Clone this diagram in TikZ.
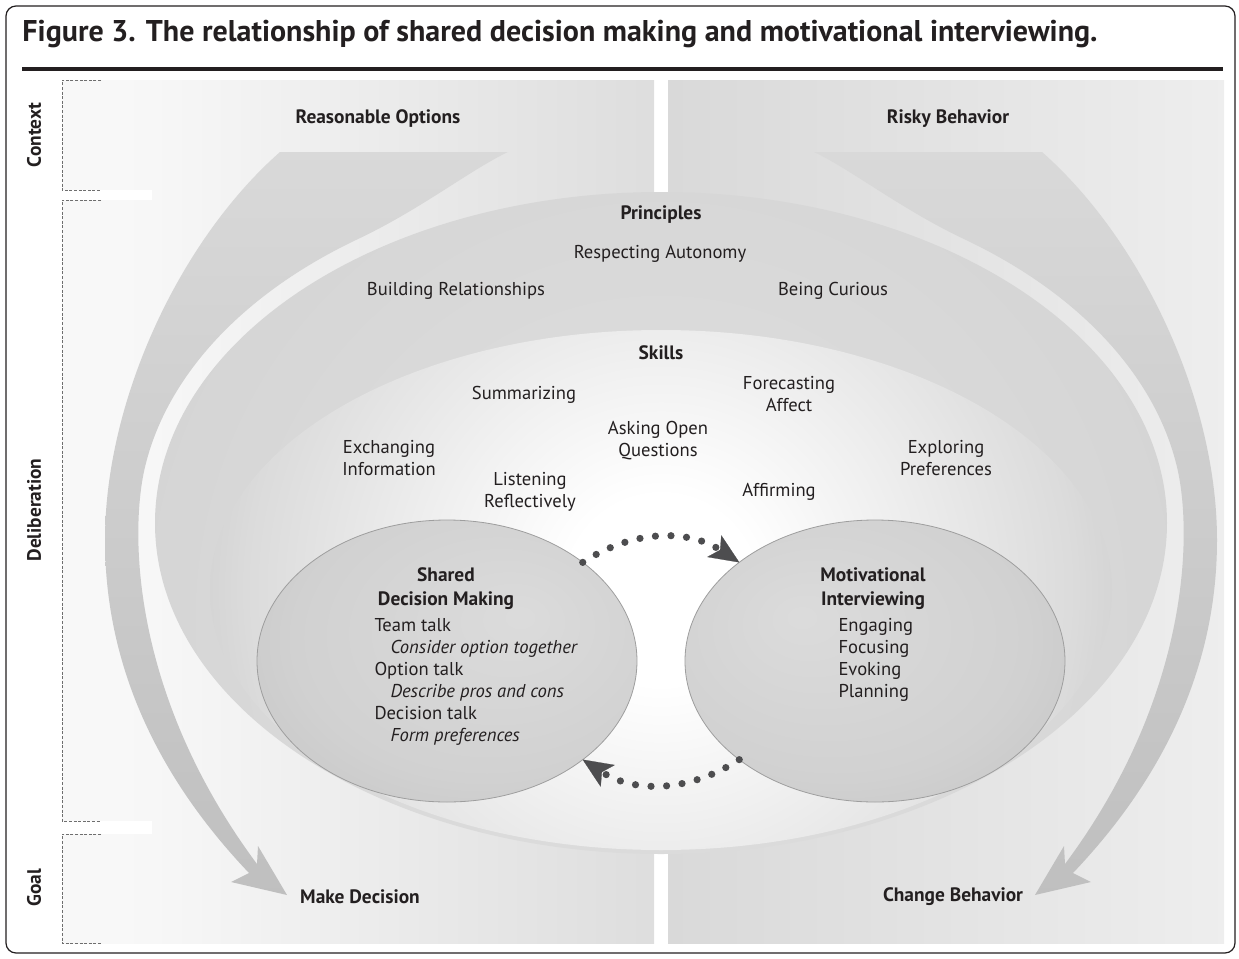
\documentclass[tikz,border=0pt]{standalone}
\usepackage{fontspec}
\setmainfont{PT Sans}
\usetikzlibrary{arrows.meta,shapes.geometric}

\definecolor{ink}{HTML}{231F20}
\definecolor{dotgrey}{HTML}{4D4D4F}
\definecolor{bandedge}{HTML}{6E6E6E}

\pgfdeclarehorizontalshading{leftwall}{100bp}{color(0bp)=(black!25); color(16bp)=(black!2); color(32bp)=(black!3); color(100bp)=(black!19)}
\pgfdeclarehorizontalshading{rightwall}{100bp}{color(0bp)=(black!19); color(92bp)=(black!4); color(100bp)=(white)}
\pgfdeclareradialshading{principleglow}{\pgfpoint{0bp}{0bp}}{color(0bp)=(black!12); color(30bp)=(black!18); color(50bp)=(black!27)}
\pgfdeclareradialshading{skillglow}{\pgfpoint{0bp}{0bp}}{color(0bp)=(white); color(5bp)=(white); color(22bp)=(black!14); color(35bp)=(black!30); color(50bp)=(black!48)}
\pgfdeclareradialshading{podglowleft}{\pgfpoint{10bp}{8bp}}{color(0bp)=(black!14); color(25bp)=(black!18); color(50bp)=(black!27)}
\pgfdeclareradialshading{podglowright}{\pgfpoint{-10bp}{8bp}}{color(0bp)=(black!14); color(25bp)=(black!18); color(50bp)=(black!27)}

\tikzset{
  every picture/.style={line width=0.5pt},
  lbl/.style={text=ink, font=\fontsize{9.3}{11}\selectfont, align=center, inner sep=0pt},
  hd/.style={text=ink, font=\fontsize{9.7}{12}\selectfont\bfseries, align=center, inner sep=0pt},
  side/.style={hd, rotate=90},
  item/.style={lbl, anchor=west, align=left},
  pod/.style={ellipse, draw=black!38, line width=0.4pt, minimum width=190pt, minimum height=141pt, inner sep=0pt, outer sep=0pt},
  loopdots/.style={dotgrey, line width=3.6pt, line cap=round, dash pattern=on 0pt off 7.8pt,
    -{Stealth[length=15pt,width=13pt,inset=3.5pt,line width=0.1pt,round=false]}},
  bandline/.style={bandedge, line width=0.5pt, dash pattern=on 1.5pt off 0.8pt},
  swoosh/.style={top color=black!15, bottom color=black!25}
}

\begin{document}
\begin{tikzpicture}[x=0.5pt,y=-0.5pt]
\useasboundingbox (0,0) rectangle (1239,959);

% frame and title
\draw[ink, line width=0.6pt, rounded corners=5pt] (6,6) rectangle (1235,953);
\node[anchor=west, text=ink, inner sep=0pt, font=\fontsize{15}{17}\selectfont\bfseries] (title) at (22,34)
  {Figure 3. The relationship of shared decision making and motivational interviewing.};
\draw[ink, line width=2pt] (22,69) -- (1223,69);

% backdrop halves
\shade[shading=leftwall] (62,80) rectangle (654,943);
\shade[shading=rightwall] (668,80) rectangle (1224,943);
\fill[white] (55,190) rectangle (152,200);
\fill[white] (55,821) rectangle (152,834);
\foreach \ya/\yb in {80/190, 200/821, 834/943}{
  \draw[bandline] (101,\ya) -- (62,\ya) -- (62,\yb) -- (101,\yb);
}

% the two big curved arrows
\shade[swoosh] (280,152) -- (508,152) .. controls (470,170) and (420,210) .. (356,240)
  arc[start angle=234.3, end angle=188.5, x radius=522, y radius=346]
  .. controls (129,540) and (135,700) .. (257,864) -- (258,846) -- (287,895) -- (231,882) -- (249,873)
  .. controls (170,790) and (105,680) .. (105,540) .. controls (105,400) and (180,240) .. (280,152) -- cycle;
\begin{scope}[xshift=661pt, xscale=-1]
\shade[swoosh] (280,152) -- (508,152) .. controls (470,170) and (420,210) .. (356,240)
  arc[start angle=234.3, end angle=188.5, x radius=522, y radius=346]
  .. controls (129,540) and (135,700) .. (257,864) -- (258,846) -- (287,895) -- (231,882) -- (249,873)
  .. controls (170,790) and (105,680) .. (105,540) .. controls (105,400) and (180,240) .. (280,152) -- cycle;
\end{scope}

% principles and skills
\begin{scope}
  \clip (661,523) ellipse [x radius=506, y radius=331];
  \shade[shading=principleglow] (661,620) circle [radius=600];
\end{scope}
\begin{scope}
  \clip (661,523) ellipse [x radius=506, y radius=331];
  \clip (661,590) ellipse [x radius=451, y radius=260];
  \shade[shading=skillglow] (661,590) circle [radius=470];
\end{scope}

% the two approaches
\node[pod, shading=podglowleft] (sdm) at (447,661) {};
\node[pod, shading=podglowright] (mi) at (875,661) {};
\draw[loopdots] (sdm.36) to[bend left=33] (mi.144);
\draw[loopdots] (mi.216) to[bend left=33] (sdm.324);

% side labels
\node[side] (context) at (34,135) {Context};
\node[side] (deliberation) at (34,510) {Deliberation};
\node[side] (goal) at (34,888) {Goal};

% labels
\node[hd] (reasonable) at (378,119) {Reasonable Options};
\node[hd] (risky) at (948,119) {Risky Behavior};
\node[hd] (decide) at (360,897) {Make Decision};
\node[hd] (change) at (953,897) {Change Behavior};
\node[hd] (principles) at (661,215) {Principles};
\node[lbl] (autonomy) at (660,254) {Respecting Autonomy};
\node[lbl] (relations) at (456,291) {Building Relationships};
\node[lbl] (curious) at (833,291) {Being Curious};
\node[hd] (skills) at (661,353) {Skills};
\node[lbl] (summar) at (524,395) {Summarizing};
\node[lbl] (forecast) at (789,394) {Forecasting\\Affect};
\node[lbl] (openq) at (658,441) {Asking Open\\Questions};
\node[lbl] (exchange) at (389,458) {Exchanging\\Information};
\node[lbl] (explore) at (946,458) {Exploring\\Preferences};
\node[lbl] (listen) at (530,492) {Listening\\Reflectively};
\node[lbl] (affirm) at (779,492) {Affirming};

\node[hd] (sdmhead) at (446,589) {Shared\\Decision Making};
\node[item] (sdmlist) at (374,682) {Team talk\\\hspace{8pt}\textit{Consider option together}\\Option talk\\
  \hspace{8pt}\textit{Describe pros and cons}\\Decision talk\\\hspace{8pt}\textit{Form preferences}};
\node[hd] (mihead) at (873,589) {Motivational\\Interviewing};
\node[item] (milist) at (838,660) {Engaging\\Focusing\\Evoking\\Planning};
\end{tikzpicture}
\end{document}
